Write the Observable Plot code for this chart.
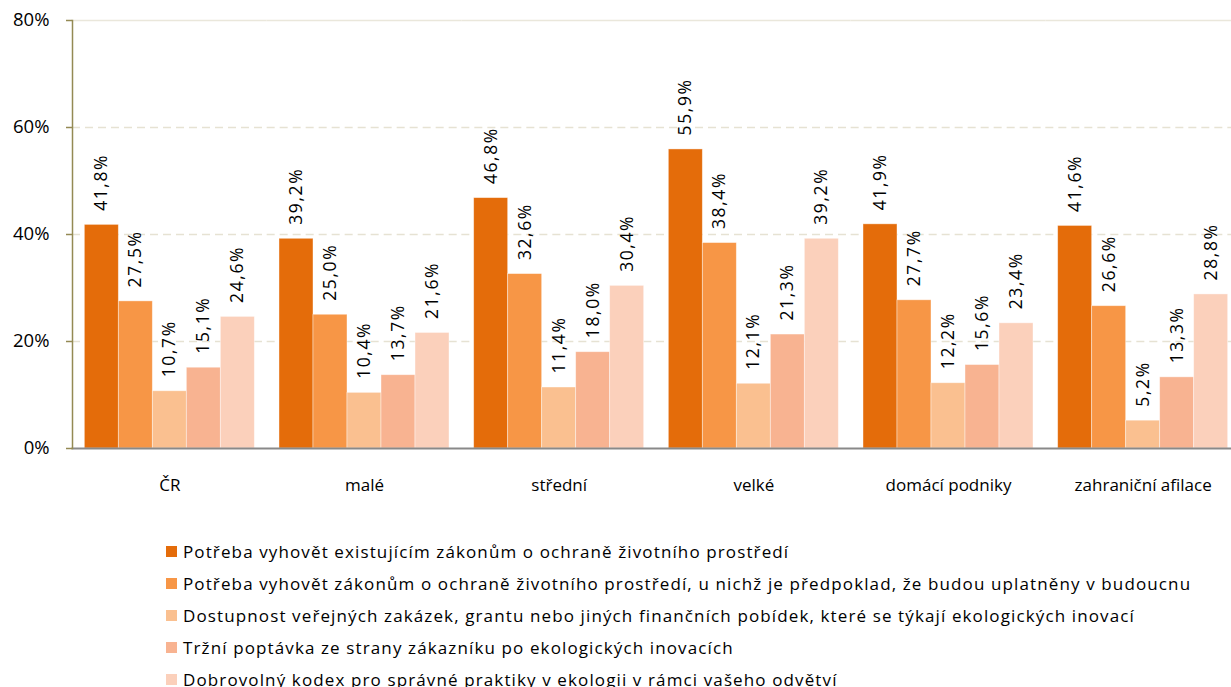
<!DOCTYPE html>
<html>
<head>
<meta charset="utf-8">
<script src="https://cdn.jsdelivr.net/npm/d3@7"></script>
<script src="https://cdn.jsdelivr.net/npm/@observablehq/plot@0.6"></script>
<style>
  html, body { margin: 0; padding: 0; background: #fff; overflow: hidden; }
  body { width: 1231px; height: 687px; position: relative; font-family: "Open Sans", sans-serif; }
  #chart { position: absolute; left: 0; top: 0; }
  g[aria-label="text"] text { letter-spacing: 1.6px; }
  #legend { position: absolute; left: 166px; top: 536px; font-size: 17px; color: #000; letter-spacing: 1.12px; }
  .row { height: 31.8px; display: flex; align-items: center; white-space: nowrap; }
  .sw { width: 11px; height: 11px; margin-right: 6px; flex: none; }
</style>
</head>
<body>
<div id="chart"></div>
<div id="legend"></div>
<script>
const groups = ["ČR", "malé", "střední", "velké", "domácí podniky", "zahraniční afilace"];
const seriesNames = [
  "Potřeba vyhovět existujícím zákonům o ochraně životního prostředí",
  "Potřeba vyhovět zákonům o ochraně životního prostředí, u nichž je předpoklad, že budou uplatněny v budoucnu",
  "Dostupnost veřejných zakázek, grantu nebo jiných finančních pobídek, které se týkají ekologických inovací",
  "Tržní poptávka ze strany zákazníku po ekologických inovacích",
  "Dobrovolný kodex pro správné praktiky v ekologii v rámci vašeho odvětví"
];
const s1 = [41.8, 39.2, 46.8, 55.9, 41.9, 41.6];
const s2 = [27.5, 25.0, 32.6, 38.4, 27.7, 26.6];
const s3 = [10.7, 10.4, 11.4, 12.1, 12.2, 5.2];
const s4 = [15.1, 13.7, 18.0, 21.3, 15.6, 13.3];
const s5 = [24.6, 21.6, 30.4, 39.2, 23.4, 28.8];
const yTicks = [0, 20, 40, 60, 80];
const colors = ["#E46C0A", "#F79646", "#FAC090", "#F8B391", "#FBD0BB"];

const seriesValues = [s1, s2, s3, s4, s5];
const data = [];
groups.forEach((g, gi) => {
  seriesNames.forEach((s, si) => {
    data.push({group: g, series: s, value: seriesValues[si][gi]});
  });
});

const fmt = v => v.toFixed(1).replace(".", ",") + "%";

const chart = Plot.plot({
  width: 1231,
  height: 530,
  marginLeft: 72,
  marginRight: -9,
  marginTop: 20,
  marginBottom: 82,
  style: {fontFamily: "Open Sans", fontSize: "17px", color: "#000", background: "#fff", overflow: "visible"},
  fx: {domain: groups, padding: 0, round: false, label: null},
  x: {domain: seriesNames, paddingInner: 0, paddingOuter: 0.3626, round: false, axis: null},
  y: {domain: [0, 80], axis: null},
  color: {domain: seriesNames, range: colors},
  marks: [
    Plot.ruleY([20, 40, 60], {stroke: "#E6E2D3", strokeWidth: 1.5, strokeDasharray: "8,5"}),
    Plot.ruleY([80], {stroke: "#EAE7DB", strokeWidth: 1.5}),
    Plot.barY(data, {fx: "group", x: "series", y: "value", fill: "series", stroke: "#fff", strokeWidth: 0.8, strokeOpacity: 0.5}),
    Plot.text(data, {fx: "group", x: "series", y: "value", text: d => fmt(d.value), rotate: -90, textAnchor: "start", lineAnchor: "middle", dy: -14, fontSize: 17.5, fill: "#000"}),
    Plot.frame({anchor: "bottom", facet: "super", stroke: "#898989", strokeWidth: 2}),
    Plot.frame({anchor: "left", facet: "super", stroke: "#948A54", strokeWidth: 1.5}),
    Plot.axisY({ticks: yTicks, tickFormat: d => d + "%", tickSize: 6, tickPadding: 17, stroke: "#948A54", strokeWidth: 1.5, fontSize: 18.5, fill: "#000", label: null}),
    Plot.axisFx({anchor: "bottom", tickSize: 0, tickPadding: 30, fontSize: 17, fill: "#000", label: null})
  ]
});
document.getElementById("chart").appendChild(chart);

const legend = document.getElementById("legend");
seriesNames.forEach((s, i) => {
  const row = document.createElement("div");
  row.className = "row";
  const sw = document.createElement("span");
  sw.className = "sw";
  sw.style.background = colors[i];
  const t = document.createElement("span");
  t.textContent = s;
  row.appendChild(sw);
  row.appendChild(t);
  legend.appendChild(row);
});
</script>
</body>
</html>
